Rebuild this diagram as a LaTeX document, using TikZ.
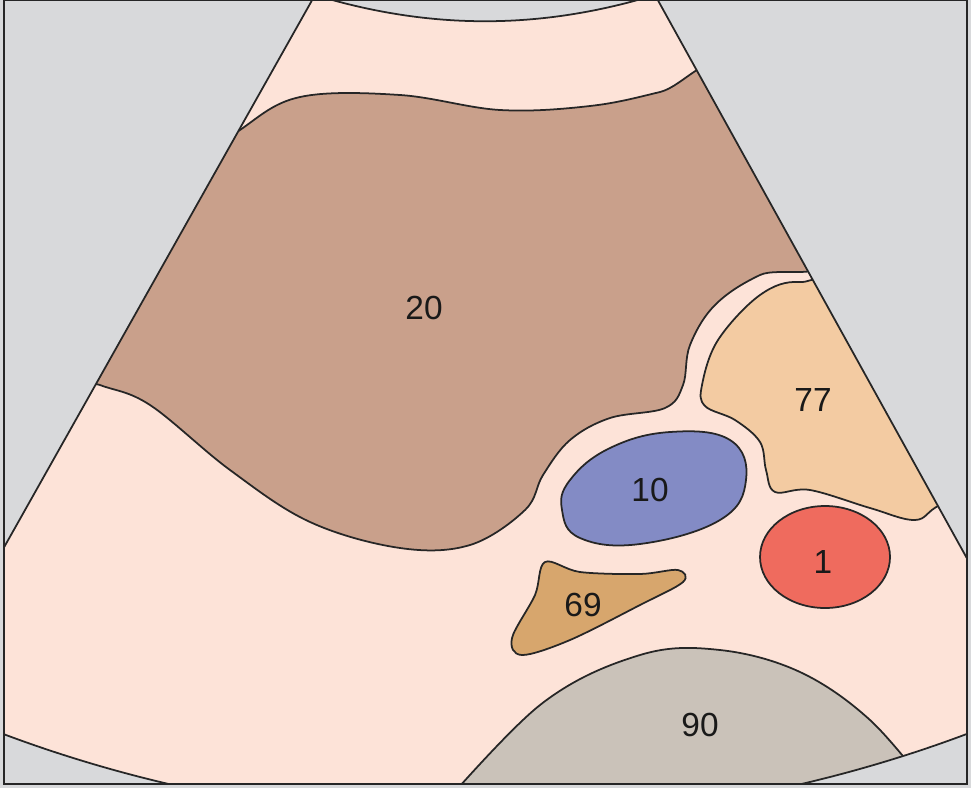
\documentclass[tikz,border=0pt]{standalone}
\usepackage{fontspec}
\setmainfont{Liberation Sans}
\definecolor{bg}{HTML}{D8D9DB}
\definecolor{pinkc}{HTML}{FDE3D8}
\definecolor{brownc}{HTML}{C9A08B}
\definecolor{peach}{HTML}{F3CBA2}
\definecolor{bluec}{HTML}{838BC5}
\definecolor{redc}{HTML}{EF6B5E}
\definecolor{tanc}{HTML}{D7A66D}
\definecolor{grayc}{HTML}{CAC2B9}
\begin{document}
\begin{tikzpicture}[x=0.01cm,y=-0.01cm,line width=0.5pt,
  region/.style={draw=black!85},
  lbl/.style={font=\fontsize{9.5}{10}\selectfont,text=black!90}]
\fill[bg] (0,0) rectangle (971,788);
\useasboundingbox (0,0) rectangle (971,788);
\begin{scope}
\clip (4,0) rectangle (967,784);
\begin{scope}
\clip (315,-5) -- (-20,590) -- (-20,725) .. controls (300,852) and (670,852) .. (990,725) -- (990,600) -- (655,-5) .. controls (540,30) and (430,30) .. (315,-5) -- cycle;
\fill[pinkc] (0,0) rectangle (971,788);
% 20
\filldraw[region,fill=brownc] plot[smooth cycle,tension=0.6] coordinates {
 (60,370) (180,180) (240,130) (300,97) (400,95) (500,110) (590,106) (660,92) (740,70) (830,250)
 (760,275) (715,305) (690,345) (683,385) (665,408) (610,418) (570,440) (543,475) (525,510)
 (470,545) (400,548) (310,522) (230,470) (150,405) (100,385)};
% 77
\filldraw[region,fill=peach] plot[smooth cycle,tension=0.6] coordinates {
 (760,295) (800,282) (850,300) (1000,480) (940,505) (915,520) (870,508) (810,490)
 (775,492) (766,470) (760,442) (735,420) (705,406) (702,385) (718,340)};
% 90
\filldraw[region,fill=grayc] plot[smooth,tension=0.6] coordinates {
 (430,820) (540,705) (640,655) (720,650) (800,672) (870,720) (930,790)};
\end{scope}
\draw[region] (315,-5) -- (-20,590) (-20,725) .. controls (300,852) and (670,852) .. (990,725) (990,600) -- (655,-5) .. controls (540,30) and (430,30) .. (315,-5);
\end{scope}
% 10
\filldraw[region,fill=bluec] plot[smooth cycle,tension=0.7] coordinates {
 (570,480) (610,448) (670,432) (730,440) (746,480) (720,520) (640,544) (580,538) (562,510)};
% 1
\filldraw[region,fill=redc] (825,557) ellipse [x radius=65, y radius=51];
% 69
\filldraw[region,fill=tanc] plot[smooth cycle,tension=0.55] coordinates {
 (545,562) (580,572) (640,574) (678,570) (683,582) (640,605) (570,640) (522,655) (512,638) (535,595)};
\draw[black!85] (4,0) rectangle (967,784);
\node[lbl] (n20) at (424,308) {20};
\node[lbl] (n77) at (813,400) {77};
\node[lbl] (n10) at (650,490) {10};
\node[lbl] (n1) at (823,562) {1};
\node[lbl] (n69) at (583,605) {69};
\node[lbl] (n90) at (700,725) {90};
\end{tikzpicture}
\end{document}
